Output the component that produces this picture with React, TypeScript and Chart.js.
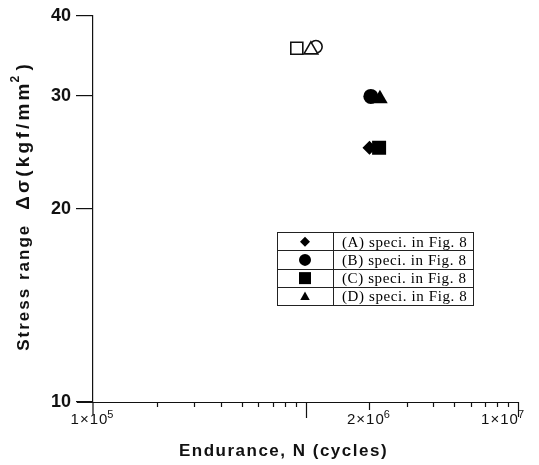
import React, { useEffect, useRef } from 'react';
import { Chart, registerables } from 'chart.js';

Chart.register(...registerables);

// ---- data ----
const seriesLabels = ['(A) speci. in Fig. 8', '(B) speci. in Fig. 8', '(C) speci. in Fig. 8', '(D) speci. in Fig. 8'];
const seriesShapes = ['rectRot', 'circle', 'rect', 'triangle'];
const seriesRadius = [7, 7.5, 9.9, 9];
const seriesN = [2.0e6, 2.03e6, 2.22e6, 2.24e6];
const seriesS = [24.9, 29.95, 24.9, 29.7];

// open symbols (upper group)
const openShapes = ['rect', 'triangle', 'circle'];
const openRadius = [8.5, 8, 6.2];
const openN = [9.1e5, 1.06e6, 1.12e6];
const openS = [35.6, 35.4, 35.8];

const yTickValues = [10, 20, 30, 40];
const xLabelValues = [1e5, 2e6, 1e7];
const xLabelMantissa = ['1', '2', '1'];
const xLabelExp = ['5', '6', '7'];

const xTitle = 'Endurance, N (cycles)';
const yTitleA = 'Stress range';
const yTitleB = 'Δσ(kgf/mm';
const yTitleSup = '2';
const yTitleC = ')';

const SANS = '"Liberation Sans", Arial, sans-serif';
const SERIF = '"Liberation Serif", "Times New Roman", serif';

function drawShape(ctx: CanvasRenderingContext2D, shape: string, x: number, y: number, r: number) {
  ctx.beginPath();
  if (shape === 'circle') {
    ctx.arc(x, y, r, 0, Math.PI * 2);
  } else if (shape === 'rect') {
    ctx.rect(x - r, y - r, 2 * r, 2 * r);
  } else if (shape === 'rectRot') {
    ctx.moveTo(x, y - r);
    ctx.lineTo(x + r, y);
    ctx.lineTo(x, y + r);
    ctx.lineTo(x - r, y);
    ctx.closePath();
  } else if (shape === 'triangle') {
    ctx.moveTo(x, y - r);
    ctx.lineTo(x + r * 0.95, y + r * 0.7);
    ctx.lineTo(x - r * 0.95, y + r * 0.7);
    ctx.closePath();
  }
  ctx.fill();
}

const customAxes = {
  id: 'customAxes',
  afterDraw(chart: any) {
    const ctx: any = chart.ctx;
    const xs = chart.scales.x;
    const area = chart.chartArea;
    ctx.save();
    ctx.strokeStyle = '#111';
    ctx.fillStyle = '#111';
    ctx.lineWidth = 1.2;

    // x axis line
    ctx.beginPath();
    ctx.moveTo(area.left - 16, area.bottom + 0.5);
    ctx.lineTo(xs.getPixelForValue(1e7), area.bottom + 0.5);
    ctx.stroke();

    // y axis extension below x axis
    const x0 = xs.getPixelForValue(1e5);
    ctx.beginPath();
    ctx.moveTo(x0, area.bottom);
    ctx.lineTo(x0, area.bottom + 13);
    ctx.stroke();

    // x ticks (hanging down)
    for (let e = 5; e <= 6; e++) {
      for (let m = 1; m <= 9; m++) {
        const v = m * Math.pow(10, e);
        if (v === 1e5) continue;
        let len = 5;
        if (v === 1e6) len = 16;
        else if (v === 2e6) len = 8;
        const px = Math.round(xs.getPixelForValue(v)) + 0.5;
        ctx.beginPath();
        ctx.moveTo(px, area.bottom);
        ctx.lineTo(px, area.bottom + len);
        ctx.stroke();
      }
    }
    const pxEnd = Math.round(xs.getPixelForValue(1e7)) + 0.5;
    ctx.beginPath();
    ctx.moveTo(pxEnd, area.bottom);
    ctx.lineTo(pxEnd, area.bottom + 15);
    ctx.stroke();

    // x labels
    ctx.textBaseline = 'middle';
    ctx.letterSpacing = '1px';
    xLabelValues.forEach((v, i) => {
      const main = xLabelMantissa[i] + '×10';
      const exp = xLabelExp[i];
      ctx.font = `15px ${SANS}`;
      const wMain = ctx.measureText(main).width;
      ctx.font = `11px ${SANS}`;
      const wExp = ctx.measureText(exp).width;
      const total = wMain + wExp;
      let cx = xs.getPixelForValue(v);
      if (i === xLabelValues.length - 1) cx = Math.min(cx, chart.width - total / 2 - 13);
      const left = cx - total / 2;
      const ly = area.bottom + 18;
      ctx.textAlign = 'left';
      ctx.font = `15px ${SANS}`;
      ctx.fillText(main, left, ly);
      ctx.font = `11px ${SANS}`;
      ctx.fillText(exp, left + wMain - 1, ly - 5);
    });

    // x title
    ctx.letterSpacing = '1.5px';
    ctx.font = `bold 17px ${SANS}`;
    ctx.textAlign = 'center';
    ctx.fillText(xTitle, (area.left + area.right) / 2 - 22, area.bottom + 49);

    // y title (rotated)
    ctx.save();
    ctx.translate(24, (area.top + area.bottom) / 2 - 3);
    ctx.rotate(-Math.PI / 2);
    ctx.letterSpacing = '2px';
    ctx.font = `bold 17px ${SANS}`;
    const wA = ctx.measureText(yTitleA).width;
    const gap = 14;
    ctx.letterSpacing = '3.2px';
    ctx.font = `bold 19px ${SANS}`;
    const wB = ctx.measureText(yTitleB).width;
    ctx.font = `bold 12px ${SANS}`;
    const wS = ctx.measureText(yTitleSup).width;
    ctx.font = `bold 19px ${SANS}`;
    const wC = ctx.measureText(yTitleC).width;
    const total = wA + gap + wB + wS + wC;
    let tx = -total / 2;
    ctx.textAlign = 'left';
    ctx.textBaseline = 'middle';
    ctx.letterSpacing = '2px';
    ctx.font = `bold 17px ${SANS}`;
    ctx.fillText(yTitleA, tx, 0);
    tx += wA + gap;
    ctx.letterSpacing = '3.2px';
    ctx.font = `bold 19px ${SANS}`;
    ctx.fillText(yTitleB, tx, 0);
    tx += wB;
    ctx.font = `bold 12px ${SANS}`;
    ctx.fillText(yTitleSup, tx - 2, -8);
    tx += wS;
    ctx.font = `bold 19px ${SANS}`;
    ctx.fillText(yTitleC, tx, 0);
    ctx.restore();

    // legend table
    ctx.letterSpacing = '0px';
    const lx = 277, ly = 232, lw = 196, rowH = 18.25, divX = 333;
    ctx.lineWidth = 1;
    ctx.strokeStyle = '#222';
    ctx.fillStyle = '#fff';
    ctx.fillRect(lx, ly, lw, rowH * 4);
    ctx.strokeRect(lx + 0.5, ly + 0.5, lw, rowH * 4);
    ctx.beginPath();
    ctx.moveTo(divX + 0.5, ly);
    ctx.lineTo(divX + 0.5, ly + rowH * 4);
    for (let i = 1; i < 4; i++) {
      ctx.moveTo(lx, Math.round(ly + rowH * i) + 0.5);
      ctx.lineTo(lx + lw, Math.round(ly + rowH * i) + 0.5);
    }
    ctx.stroke();
    const legR = [5, 6, 6, 5];
    seriesLabels.forEach((lab, i) => {
      const cy = ly + rowH * i + rowH / 2 + 0.5;
      ctx.fillStyle = '#000';
      drawShape(ctx, seriesShapes[i], 305, cy, legR[i]);
      ctx.letterSpacing = '0.6px';
      ctx.font = `15px ${SERIF}`;
      ctx.textAlign = 'left';
      ctx.textBaseline = 'middle';
      ctx.fillText(lab, 342, cy + 1);
    });
    ctx.restore();
  },
};

export default function App() {
  const ref = useRef<HTMLCanvasElement>(null);
  useEffect(() => {
    if (!ref.current) return;
    const datasets: any[] = [];
    seriesLabels.forEach((lab, i) => {
      datasets.push({
        label: lab,
        data: [{ x: seriesN[i], y: seriesS[i] }],
        pointStyle: seriesShapes[i],
        pointRadius: seriesRadius[i],
        backgroundColor: '#000',
        borderColor: '#000',
        borderWidth: 0,
        showLine: false,
      });
    });
    openShapes.forEach((sh, i) => {
      datasets.push({
        label: 'open ' + sh,
        data: [{ x: openN[i], y: openS[i] }],
        pointStyle: sh,
        pointRadius: openRadius[i],
        backgroundColor: '#fff',
        borderColor: '#111',
        borderWidth: 1.6,
        showLine: false,
      });
    });
    const chart = new Chart(ref.current, {
      type: 'scatter',
      data: { datasets },
      options: {
        responsive: false,
        animation: false,
        devicePixelRatio: 1,
        layout: { padding: { top: 14, right: 21, left: 0, bottom: 0 } },
        plugins: { legend: { display: false }, tooltip: { enabled: false } },
        scales: {
          x: {
            type: 'logarithmic',
            min: 1e5,
            max: 1e7,
            ticks: { display: false },
            grid: { display: false },
            border: { display: false },
            afterFit: (s: any) => { s.height = 63; },
          },
          y: {
            type: 'logarithmic',
            min: 10,
            max: 40,
            afterBuildTicks: (s: any) => { s.ticks = yTickValues.map((v) => ({ value: v })); },
            ticks: {
              color: '#111',
              font: { family: SANS, size: 18, weight: 'bold' },
              padding: 5,
              callback: (v: any) => String(v),
            },
            grid: { drawOnChartArea: false, drawTicks: true, tickLength: 17, color: '#111', lineWidth: 1.2 },
            border: { display: true, color: '#111', width: 1.2 },
            afterFit: (s: any) => { s.width = 93; },
          },
        },
      },
      plugins: [customAxes],
    });
    return () => chart.destroy();
  }, []);
  return (
    <div style={{ position: 'absolute', left: 0, top: 0, width: 539, height: 465, background: '#fff' }}>
      <canvas ref={ref} width={539} height={465} />
    </div>
  );
}
